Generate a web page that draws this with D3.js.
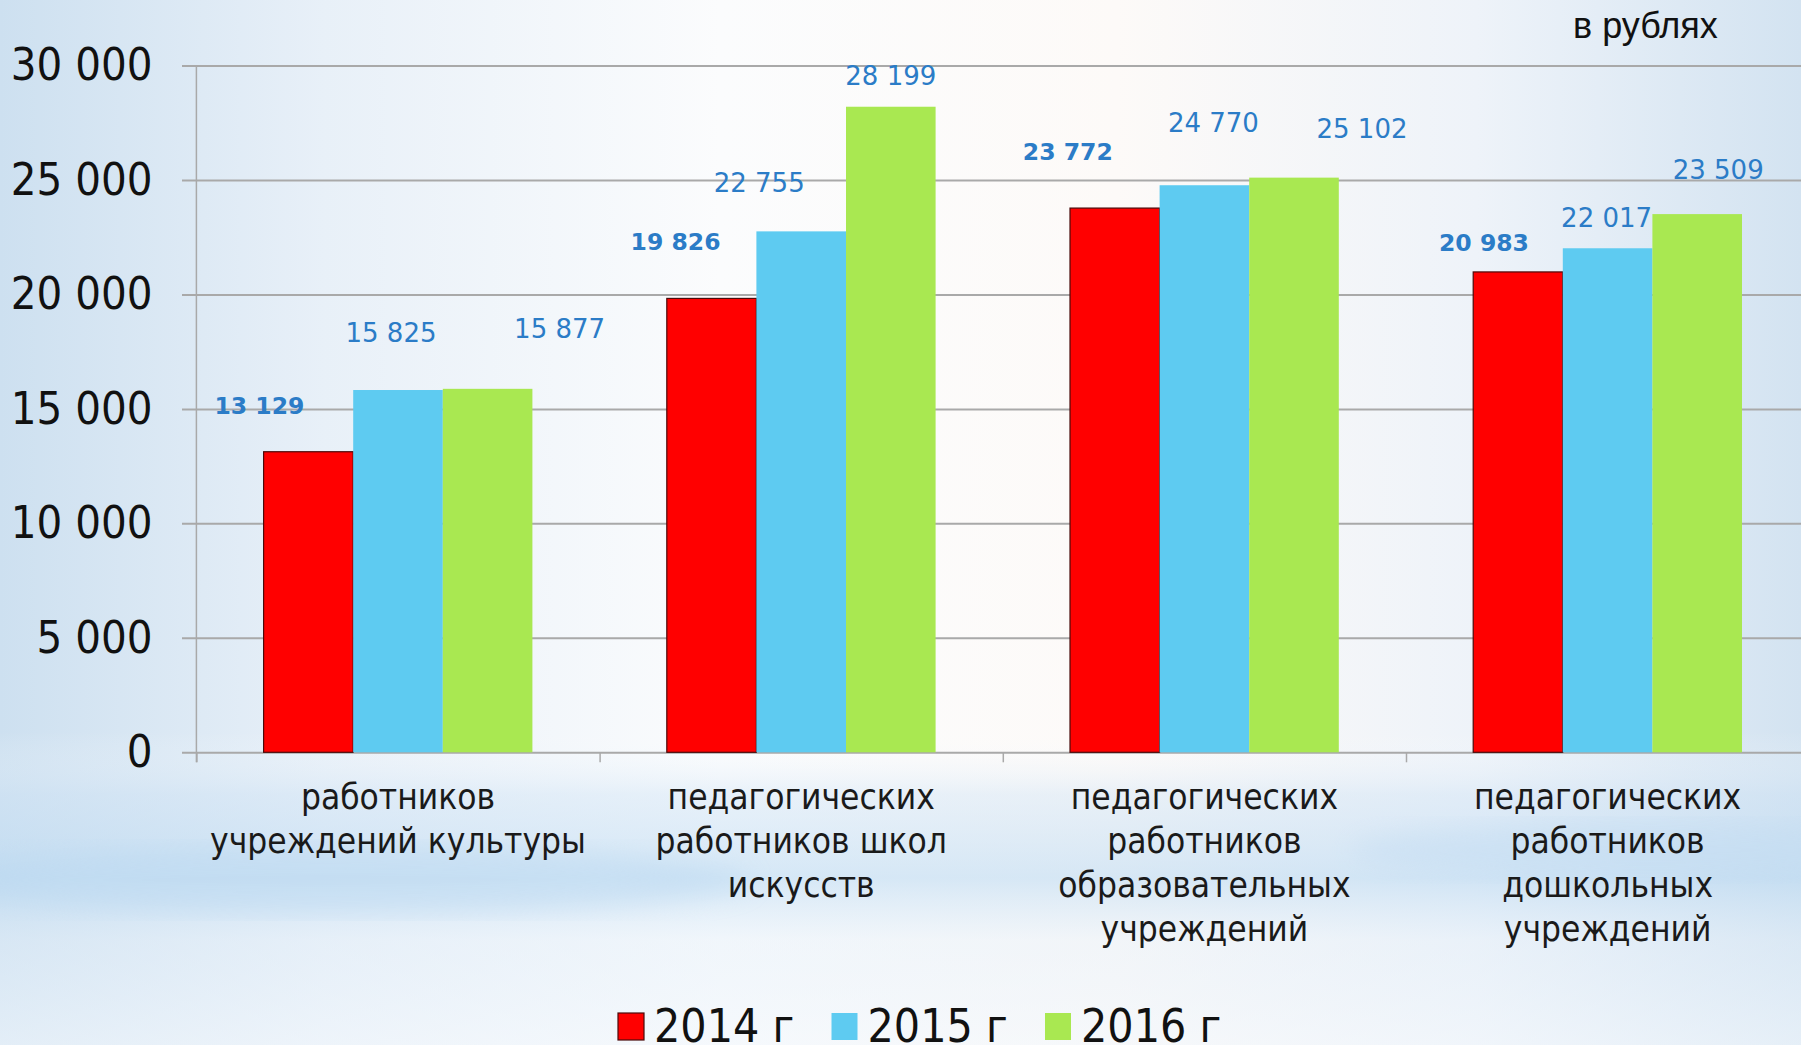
<!DOCTYPE html>
<html>
<head>
<meta charset="utf-8">
<script src="https://cdn.jsdelivr.net/npm/d3@7"></script>
<style>
  html, body { margin: 0; padding: 0; overflow: hidden; }
  svg { display: block; }
</style>
</head>
<body>
<div id="chart"></div>
<script>
// data
var categories = [
    ['работников', 'учреждений культуры'],
    ['педагогических', 'работников школ', 'искусств'],
    ['педагогических', 'работников', 'образовательных', 'учреждений'],
    ['педагогических', 'работников', 'дошкольных', 'учреждений']
];
var seriesNames = ['2014 г', '2015 г', '2016 г'];
var values2014 = [13129, 19826, 23772, 20983];
var values2015 = [15825, 22755, 24770, 22017];
var values2016 = [15877, 28199, 25102, 23509];
var yTicks = [0, 5000, 10000, 15000, 20000, 25000, 30000];
var unitLabel = 'в рублях';

// label nudges, px from bar top centre (the original labels are dragged around)
var labelNudge = [
    [[-49, -46], [-7, -57], [72, -60]],
    [[-36, -57], [-42, -49], [0, -31]],
    [[-47, -57], [9, -63], [68, -49]],
    [[-34, -29], [-1, -31], [21, -44]]
];

var W = 1801, H = 1045,
    plotLeft = 196.4, plotRight = 1809.2,
    plotTop = 65.5, plotBottom = 752.3,
    colors = ['#ff0000', '#5ecbf1', '#a9e851'],
    labelColor = '#2b7cc7',
    font = '"DejaVu Sans Condensed", "DejaVu Sans", sans-serif',
    labelFont = '"DejaVu Sans", sans-serif';

var ru = d3.formatLocale({ decimal: ',', thousands: '\u00a0', grouping: [3], currency: ['', ''] }),
    fmt = ru.format(',d');

var rows = categories.map(function(c, i) {
    return { idx: i, lines: c, vals: [values2014[i], values2015[i], values2016[i]] };
});

var svg = d3.select('#chart').append('svg')
    .attr('width', W)
    .attr('height', H);

// background, slide-like gradient
var defs = svg.append('defs');
var bgH = defs.append('linearGradient').attr('id', 'bgH');
[[0, '#cde0f0'], [0.18, '#e8f0f8'], [0.4, '#fbfcfd'], [0.62, '#fdfaf8'], [0.82, '#eef3f9'], [1, '#d3e3f1']]
    .forEach(function(s) { bgH.append('stop').attr('offset', s[0]).attr('stop-color', s[1]); });
var bgV = defs.append('linearGradient').attr('id', 'bgV').attr('x1', 0).attr('x2', 0).attr('y1', 0).attr('y2', 1);
[[0, '#ffffff', 0], [0.7, '#ffffff', 0], [0.76, '#cfe3f5', 0.45], [0.84, '#bcdaf2', 0.6], [0.9, '#e4eff9', 0.45], [1, '#f2f7fc', 0.6]]
    .forEach(function(s) { bgV.append('stop').attr('offset', s[0]).attr('stop-color', s[1]).attr('stop-opacity', s[2]); });
defs.append('filter').attr('id', 'blur')
    .append('feGaussianBlur').attr('stdDeviation', 12);

svg.append('rect').attr('width', W).attr('height', H).attr('fill', 'url(#bgH)');
svg.append('rect').attr('width', W).attr('height', H).attr('fill', 'url(#bgV)');
svg.append('ellipse')
    .attr('cx', 330).attr('cy', 880).attr('rx', 420).attr('ry', 34)
    .attr('fill', '#bcd9f1').attr('opacity', 0.5).attr('filter', 'url(#blur)');
svg.append('ellipse')
    .attr('cx', 1650).attr('cy', 850).attr('rx', 300).attr('ry', 28)
    .attr('fill', '#c2dcf2').attr('opacity', 0.45).attr('filter', 'url(#blur)');

// scales
var x0 = d3.scaleBand().domain(d3.range(categories.length)).range([plotLeft, plotRight]).padding(0),
    x1 = d3.scaleBand().domain(d3.range(seriesNames.length)).range([0, x0.bandwidth()]).paddingInner(0).paddingOuter(0.75),
    xEdge = d3.scaleLinear().domain([0, categories.length]).range([plotLeft, plotRight]),
    y = d3.scaleLinear().domain([0, 30000]).range([plotBottom, plotTop]);

// grid lines
svg.append('g')
    .attr('class', 'grid')
    .attr('transform', 'translate(182,0)')
    .call(d3.axisRight(y).tickValues(yTicks).tickSize(W - 182).tickFormat(''))
    .call(function(g) {
        g.select('.domain').remove();
        g.selectAll('line').attr('stroke', '#a9a9a9').attr('stroke-width', 2);
    });

// y labels
svg.append('g')
    .attr('transform', 'translate(' + plotLeft + ',0)')
    .call(d3.axisLeft(y).tickValues(yTicks).tickSize(0).tickPadding(44).tickFormat(fmt))
    .call(function(g) {
        g.select('.domain').remove();
        g.selectAll('text')
            .attr('font-family', font)
            .attr('font-size', 45)
            .attr('fill', '#111');
    });

// vertical axis + category ticks
svg.append('line')
    .attr('x1', plotLeft).attr('x2', plotLeft)
    .attr('y1', plotTop).attr('y2', plotBottom + 10)
    .attr('stroke', '#a9a9a9').attr('stroke-width', 1.5);
svg.append('g')
    .attr('transform', 'translate(0,' + plotBottom + ')')
    .call(d3.axisBottom(xEdge).tickValues(d3.range(categories.length + 1)).tickSize(10).tickFormat(''))
    .call(function(g) {
        g.select('.domain').remove();
        g.selectAll('line').attr('stroke', '#a9a9a9').attr('stroke-width', 1.5);
    });

// bars
var groups = svg.append('g').selectAll('g.cat')
    .data(rows)
    .enter().append('g')
    .attr('class', 'cat')
    .attr('transform', function(d) { return 'translate(' + x0(d.idx) + ',0)'; });

groups.selectAll('rect')
    .data(function(d) { return d.vals.map(function(v, s) { return { s: s, v: v, c: d.idx }; }); })
    .enter().append('rect')
    .attr('x', function(d) { return x1(d.s); })
    .attr('y', function(d) { return y(d.v); })
    .attr('width', x1.bandwidth())
    .attr('height', function(d) { return y(0) - y(d.v); })
    .attr('fill', function(d) { return colors[d.s]; })
    .attr('stroke', function(d) { return d.s === 0 ? '#4a0a0a' : 'none'; })
    .attr('stroke-width', 1.2);

// value labels
groups.selectAll('text.val')
    .data(function(d) { return d.vals.map(function(v, s) { return { s: s, v: v, c: d.idx }; }); })
    .enter().append('text')
    .attr('class', 'val')
    .attr('x', function(d) { return x1(d.s) + x1.bandwidth() / 2 + labelNudge[d.c][d.s][0]; })
    .attr('y', function(d) { return y(d.v) + labelNudge[d.c][d.s][1]; })
    .attr('dy', '0.36em')
    .attr('text-anchor', 'middle')
    .attr('font-family', labelFont)
    .attr('font-size', function(d) { return d.s === 0 ? 23.5 : 26; })
    .attr('font-weight', function(d) { return d.s === 0 ? 'bold' : 'normal'; })
    .attr('fill', labelColor)
    .text(function(d) { return fmt(d.v); });

// category labels
var catText = svg.append('g').selectAll('text')
    .data(rows)
    .enter().append('text')
    .attr('text-anchor', 'middle')
    .attr('font-family', font)
    .attr('font-size', 35)
    .attr('fill', '#1a1a1a');
catText.selectAll('tspan')
    .data(function(d) { return d.lines.map(function(l) { return { l: l, c: d.idx }; }); })
    .enter().append('tspan')
    .attr('x', function(d) { return x0(d.c) + x0.bandwidth() / 2; })
    .attr('y', function(d, i) { return 809 + i * 44; })
    .text(function(d) { return d.l; });

// unit label
svg.append('text')
    .attr('x', 1573).attr('y', 38)
    .attr('font-family', '"Liberation Sans", Arial, sans-serif')
    .attr('font-size', 36)
    .attr('fill', '#111')
    .text(unitLabel);

// legend
var legend = svg.append('g').attr('transform', 'translate(618,1042)');
var item = legend.selectAll('g')
    .data(seriesNames)
    .enter().append('g')
    .attr('transform', function(d, i) { return 'translate(' + (i * 213.5) + ',0)'; });
item.append('rect')
    .attr('x', 0).attr('y', -29)
    .attr('width', 26).attr('height', 27)
    .attr('fill', function(d, i) { return colors[i]; })
    .attr('stroke', function(d, i) { return i === 0 ? '#4a0a0a' : 'none'; })
    .attr('stroke-width', 1.2);
item.append('text')
    .attr('x', 36)
    .attr('font-family', font)
    .attr('font-size', 46)
    .attr('fill', '#111')
    .text(function(d) { return d; });
</script>
</body>
</html>
